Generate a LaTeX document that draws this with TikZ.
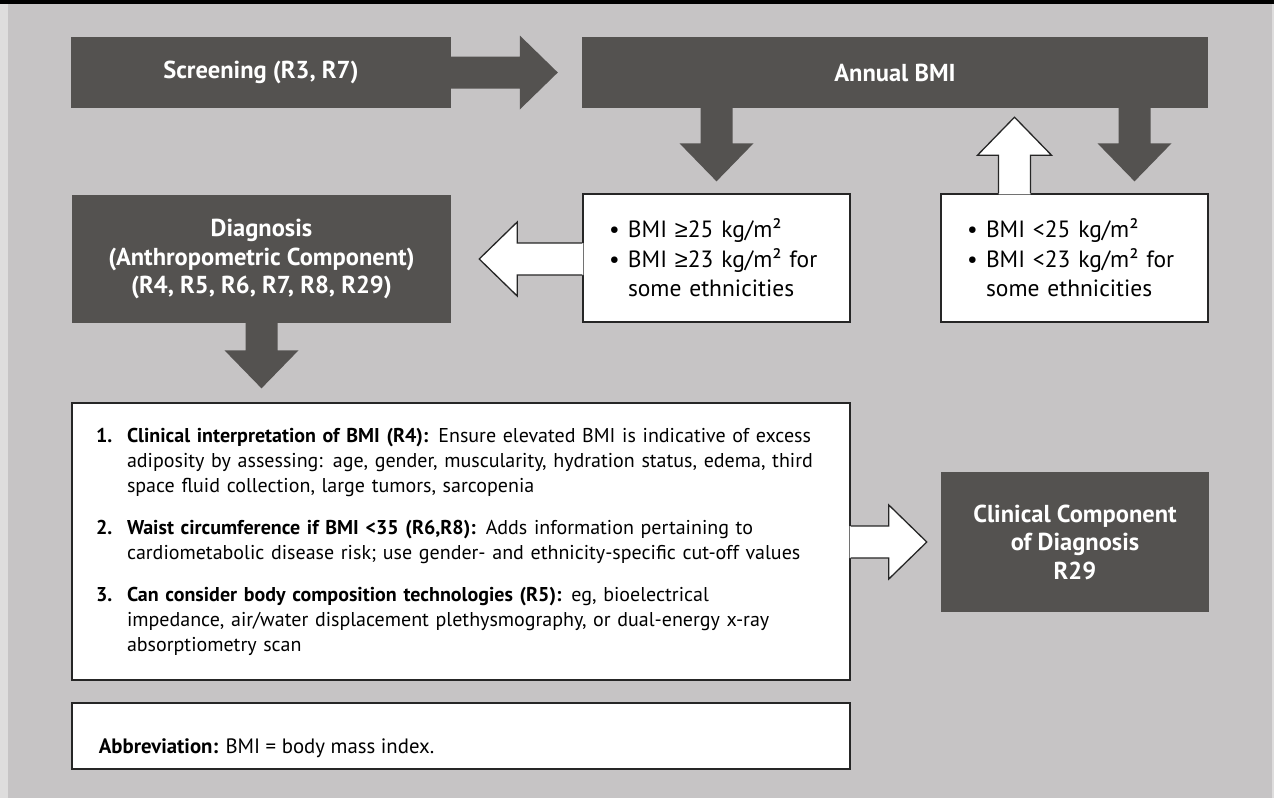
\documentclass[tikz,border=0pt]{standalone}
\usepackage{fontspec}
\setmainfont{PT Sans}
\newfontfamily\symfont{Liberation Sans}
\usepackage{xcolor}
\usepackage{tikz}
\usetikzlibrary{calc}

\definecolor{panelgrey}{RGB}{198,196,197}
\definecolor{stripgrey}{RGB}{222,221,221}
\definecolor{boxgrey}{RGB}{84,82,80}

\newcommand{\atleast}{{\symfont ≥}}

% fat block arrow from #2 to #3, look given by style #1
\newcommand{\fatarrow}[3]{%
	\path (#3) coordinate (fa_tip)
		($(#3)!38pt!(#2)$) coordinate (fa_base)
		($(#2)!-1pt!(#3)$) coordinate (fa_start);
	\path[#1, draw=none]
		($(fa_start)!16pt!90:(fa_tip)$) -- ($(fa_base)!16pt!90:(fa_tip)$)
		-- ($(fa_base)!37pt!90:(fa_tip)$) -- (fa_tip)
		-- ($(fa_base)!37pt!-90:(fa_tip)$) -- ($(fa_base)!16pt!-90:(fa_tip)$)
		-- ($(fa_start)!16pt!-90:(fa_tip)$) -- cycle;
	\path[#1, fill=none]
		($(#2)!16pt!90:(fa_tip)$) -- ($(fa_base)!16pt!90:(fa_tip)$)
		-- ($(fa_base)!37pt!90:(fa_tip)$) -- (fa_tip)
		-- ($(fa_base)!37pt!-90:(fa_tip)$) -- ($(fa_base)!16pt!-90:(fa_tip)$)
		-- ($(#2)!16pt!-90:(fa_tip)$);
}

\begin{document}
\begin{tikzpicture}[
	x=1pt, y=-1pt,
	darkbox/.style={
		fill=boxgrey,
		text=white,
		align=center,
		inner sep=0pt,
		font=\fontsize{24.5}{28.5}\selectfont\bfseries
	},
	whitebox/.style={
		draw=black!85,
		line width=1.3pt,
		fill=white,
		inner sep=0pt
	},
	bullets/.style={
		whitebox,
		align=left,
		inner xsep=26pt,
		text width=215pt,
		minimum height=128pt,
		font=\fontsize{23.5}{29.5}\selectfont
	},
	darkarrow/.style={
		fill=boxgrey
	},
	whitearrow/.style={
		fill=white,
		draw=black!85,
		line width=1.3pt
	}
	]
	
	% Panel
	\fill[black] (0,0) rectangle (1274,4);
	\fill[stripgrey] (0,4) rectangle (1274,798);
	\fill[panelgrey] (8,4) rectangle (1272,798);
	\useasboundingbox (0,0) rectangle (1274,798);
	
	% Top row
	\node[darkbox, minimum width=380pt, minimum height=71pt] (screening) at (261,72.5)
	{Screening (R3, R7)};
	
	\node[darkbox, minimum width=626pt, minimum height=71pt] (annual_bmi) at (895,72.5)
	{Annual BMI};
	
	% BMI cut-offs
	\node[darkbox, minimum width=379pt, minimum height=128pt] (diagnosis) at (261.5,259)
	{Diagnosis\\(Anthropometric Component)\\(R4, R5, R6, R7, R8, R29)};
	
	\node[bullets] (bmi_high) at (716.5,258)
	{\makebox[19pt][l]{\textbullet}BMI \atleast25 kg/m²\\
	 \makebox[19pt][l]{\textbullet}BMI \atleast23 kg/m² for\\
	 \hspace*{19pt}some ethnicities};
	
	\node[bullets] (bmi_normal) at (1074.5,258)
	{\makebox[19pt][l]{\textbullet}BMI <25 kg/m²\\
	 \makebox[19pt][l]{\textbullet}BMI <23 kg/m² for\\
	 \hspace*{19pt}some ethnicities};
	
	% Assessment steps
	\node[whitebox, align=left, inner xsep=24pt, text width=730pt, minimum height=277pt,
		font=\fontsize{20}{25}\selectfont] (assessment) at (461,541.5)
	{\begin{tabular}{@{}p{31pt}@{}l@{}}
		\textbf{1.} & \textbf{Clinical interpretation of BMI (R4):} Ensure elevated BMI is indicative of excess\\
		& adiposity by assessing: age, gender, muscularity, hydration status, edema, third\\
		& space fluid collection, large tumors, sarcopenia\\[17pt]
		\textbf{2.} & \textbf{Waist circumference if BMI <35 (R6,R8):} Adds information pertaining to\\
		& cardiometabolic disease risk; use gender- and ethnicity-specific cut-off values\\[17pt]
		\textbf{3.} & \textbf{Can consider body composition technologies (R5):} eg, bioelectrical\\
		& impedance, air/water displacement plethysmography, or dual-energy x-ray\\
		& absorptiometry scan
	\end{tabular}};
	
	\node[darkbox, minimum width=268pt, minimum height=140pt] (clinical) at (1075,542)
	{Clinical Component\\of Diagnosis\\R29};
	
	% Footnote
	\node[whitebox, minimum width=778pt, minimum height=66pt] (abbreviation) at (461,736) {};
	\node[anchor=base west, font=\fontsize{20.8}{25}\selectfont] (abbreviation_text)
		at ($(abbreviation.west)+(24,17)$)
	{\textbf{Abbreviation:} BMI = body mass index.};
	
	% Arrow ends
	\coordinate (screening_tip) at ($(annual_bmi.west)+(-24,0)$);
	\coordinate (high_root) at (annual_bmi.south -| bmi_high.north);
	\coordinate (high_tip) at ($(bmi_high.north)+(0,-12)$);
	\coordinate (normal_root) at ($(annual_bmi.south -| bmi_normal.north)+(60,0)$);
	\coordinate (normal_tip) at ($(bmi_normal.north)+(60,-12)$);
	\coordinate (repeat_root) at ($(bmi_normal.north)+(-60,0)$);
	\coordinate (repeat_tip) at ($(annual_bmi.south -| bmi_normal.north)+(-60,9)$);
	\coordinate (diagnosis_root) at (bmi_high.west |- diagnosis.east);
	\coordinate (diagnosis_tip) at ($(diagnosis.east)+(28,0)$);
	\coordinate (assessment_tip) at ($(assessment.north -| diagnosis.south)+(0,-14)$);
	\coordinate (clinical_root) at (assessment.east |- clinical.west);
	\coordinate (clinical_tip) at ($(clinical.west)+(-14,0)$);
	
	% Arrows
	\fatarrow{darkarrow}{screening.east}{screening_tip}
	\fatarrow{darkarrow}{high_root}{high_tip}
	\fatarrow{darkarrow}{normal_root}{normal_tip}
	\fatarrow{whitearrow}{repeat_root}{repeat_tip}
	\fatarrow{whitearrow}{diagnosis_root}{diagnosis_tip}
	\fatarrow{darkarrow}{diagnosis.south}{assessment_tip}
	\fatarrow{whitearrow}{clinical_root}{clinical_tip}
	
\end{tikzpicture}
\end{document}
